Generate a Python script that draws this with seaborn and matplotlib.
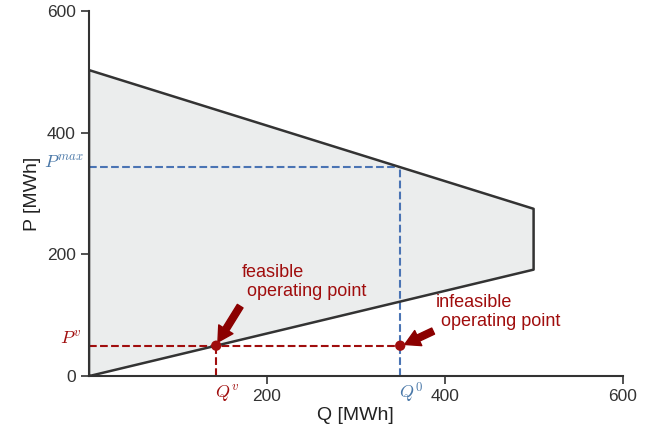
import matplotlib
matplotlib.use("Agg")
import matplotlib.pyplot as plt
import seaborn as sns
import pandas as pd

# feasible region corners (Q, P)
region_q = [0, 0, 500, 500, 0]
region_p = [0, 503, 275, 175, 0]

# operating points
q_v, p_v = 143, 50
q_0, p_max = 350, 343
point_q = [q_v, q_0]
point_p = [p_v, p_v]

x_ticks = [200, 400, 600]
y_ticks = [0, 200, 400, 600]

blue = "#4a74b4"
red = "#a00d0d"
dark = "#333333"


def main():
    sns.set_theme(style="ticks")
    plt.rcParams["font.family"] = ["Liberation Sans", "DejaVu Sans"]
    plt.rcParams["mathtext.fontset"] = "cm"

    fig = plt.figure(figsize=(6.57, 4.43), dpi=100)
    ax = fig.add_axes([0.1355, 0.151, 0.812, 0.824])

    ax.fill(region_q, region_p, color="#ebeded", zorder=1)
    df = pd.DataFrame({"Q": region_q, "P": region_p})
    sns.lineplot(data=df, x="Q", y="P", sort=False, estimator=None, color=dark,
                 lw=1.8, ax=ax, zorder=3)

    # guide lines
    ax.plot([0, q_0], [p_max, p_max], ls="--", color=blue, lw=1.5, zorder=2)
    ax.plot([q_0, q_0], [0, p_max], ls="--", color=blue, lw=1.5, zorder=2)
    ax.plot([0, q_0], [p_v, p_v], ls="--", color=red, lw=1.5, zorder=2)
    ax.plot([q_v, q_v], [0, p_v], ls="--", color=red, lw=1.5, zorder=2)

    sns.scatterplot(x=point_q, y=point_p, color=red, s=55, edgecolor="none", ax=ax, zorder=5)

    ax.set_xlim(0, 600)
    ax.set_ylim(0, 600)
    ax.set_xticks(x_ticks)
    ax.set_yticks(y_ticks)
    ax.tick_params(labelsize=12.5, colors="#333333", length=6, width=1.2)
    for s in ["left", "bottom"]:
        ax.spines[s].set_color(dark)
        ax.spines[s].set_linewidth(1.5)
    sns.despine(ax=ax)
    ax.set_xlabel("Q [MWh]", fontsize=14, color="#222222", labelpad=2)
    ax.set_ylabel("P [MWh]", fontsize=14, color="#222222", labelpad=4)

    # symbol labels
    ax.text(-6, p_max + 6, r"$P^{max}$", color="#4a78a8", fontsize=13, ha="right", va="center")
    ax.text(-8, p_v + 10, r"$P^v$", color=red, fontsize=13, ha="right", va="center")
    ax.text(q_v + 12, -30, r"$Q^v$", color=red, fontsize=13, ha="center", va="center")
    ax.text(q_0 + 12, -28, r"$Q^0$", color="#4a78a8", fontsize=13, ha="center", va="center")

    arrow = dict(arrowstyle="simple,head_width=1.0,head_length=0.9,tail_width=0.4",
                 color="#8b0000", shrinkA=0, shrinkB=0)
    ax.text(172, 155, "feasible\n operating point", color=red, fontsize=13,
            ha="left", va="center", linespacing=1.15)
    ax.annotate("", xy=(q_v + 2, p_v + 6), xytext=(170, 115), arrowprops=arrow)
    ax.text(390, 105, "infeasible\n operating point", color=red, fontsize=13,
            ha="left", va="center", linespacing=1.15)
    ax.annotate("", xy=(q_0 + 5, p_v + 2), xytext=(387, 74), arrowprops=arrow)

    plt.savefig("out.png", dpi=100)


main()
